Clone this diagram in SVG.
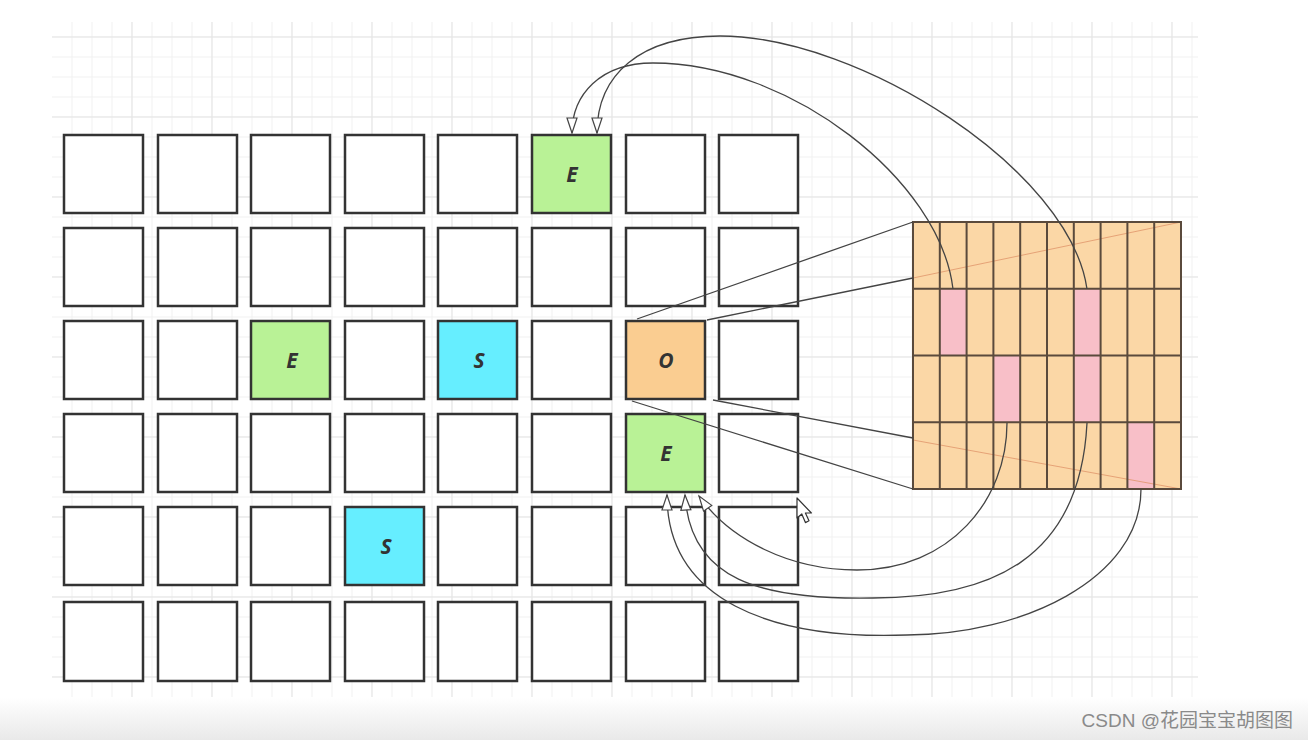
<svg xmlns="http://www.w3.org/2000/svg" width="1308" height="740" viewBox="0 0 1308 740">
<defs>
<linearGradient id="bottomFade" x1="0" y1="0" x2="0" y2="1">
<stop offset="0" stop-color="#ffffff"/>
<stop offset="1" stop-color="#e9e9e9"/>
</linearGradient>
<marker id="openArrow" markerUnits="userSpaceOnUse" markerWidth="20" markerHeight="20" viewBox="0 0 20 20" refX="17" refY="10" orient="auto">
<path d="M2,5 L17,10 L2,15 Z" fill="#ffffff" stroke="#444444" stroke-width="1.2" stroke-linejoin="miter"/>
</marker>
<style>
.cell{fill:#ffffff;stroke:#333333;stroke-width:2.5}
.green{fill:#b9f296}
.cyan{fill:#66eeff}
.orange{fill:#facd91}
.lbl{font-family:"Open Sans","DejaVu Sans",sans-serif;font-weight:bold;font-style:italic;font-size:21px;fill:#333333;text-anchor:middle}
.minor{fill:none;stroke:#f1f1f1;stroke-width:1}
.major{fill:none;stroke:#e5e5e5;stroke-width:1}
.conn{fill:none;stroke:#444444;stroke-width:1.3}
.arc{fill:none;stroke:#444444;stroke-width:1.3;marker-end:url(#openArrow)}
.bigfill{fill:#fbd7a6}
.pink{fill:#f8bfc8}
.bigline{fill:none;stroke:#5a4a3c;stroke-width:2}
.diag{fill:none;stroke:#e0956a;stroke-width:1;stroke-opacity:0.8}
</style>
</defs>
<rect x="0" y="0" width="1308" height="740" fill="#ffffff"/>
<g id="background-grid">
<path class="minor" d="M72 22v675M92 22v675M112 22v675M132 22v675M152 22v675M172 22v675M192 22v675M212 22v675M232 22v675M252 22v675M272 22v675M292 22v675M312 22v675M332 22v675M352 22v675M372 22v675M392 22v675M412 22v675M432 22v675M452 22v675M472 22v675M492 22v675M512 22v675M532 22v675M552 22v675M572 22v675M592 22v675M612 22v675M632 22v675M652 22v675M672 22v675M692 22v675M712 22v675M732 22v675M752 22v675M772 22v675M792 22v675M812 22v675M832 22v675M852 22v675M872 22v675M892 22v675M912 22v675M932 22v675M952 22v675M972 22v675M992 22v675M1012 22v675M1032 22v675M1052 22v675M1072 22v675M1092 22v675M1112 22v675M1132 22v675M1152 22v675M1172 22v675M1192 22v675"/>
<path class="minor" d="M52 37h1146M52 57h1146M52 77h1146M52 97h1146M52 117h1146M52 137h1146M52 157h1146M52 177h1146M52 197h1146M52 217h1146M52 237h1146M52 257h1146M52 277h1146M52 297h1146M52 317h1146M52 337h1146M52 357h1146M52 377h1146M52 397h1146M52 417h1146M52 437h1146M52 457h1146M52 477h1146M52 497h1146M52 517h1146M52 537h1146M52 557h1146M52 577h1146M52 597h1146M52 617h1146M52 637h1146M52 657h1146M52 677h1146"/>
<path class="major" d="M132 22v675M212 22v675M292 22v675M372 22v675M452 22v675M532 22v675M612 22v675M692 22v675M772 22v675M852 22v675M932 22v675M1012 22v675M1092 22v675M1172 22v675M52 37h1146M52 117h1146M52 197h1146M52 277h1146M52 357h1146M52 437h1146M52 517h1146M52 597h1146M52 677h1146"/>
</g>
<rect x="0" y="697" width="1308" height="43" fill="url(#bottomFade)"/>

<g id="row1">
<rect class="cell" x="64" y="135" width="79" height="78"/>
<rect class="cell" x="158" y="135" width="79" height="78"/>
<rect class="cell" x="251" y="135" width="79" height="78"/>
<rect class="cell" x="345" y="135" width="79" height="78"/>
<rect class="cell" x="438" y="135" width="79" height="78"/>
<g id="node-E-top"><rect class="cell green" x="532" y="135" width="79" height="78"/><text class="lbl" x="572" y="182">E</text></g>
<rect class="cell" x="626" y="135" width="79" height="78"/>
<rect class="cell" x="719" y="135" width="79" height="78"/>
</g>
<g id="row2">
<rect class="cell" x="64" y="228" width="79" height="78"/>
<rect class="cell" x="158" y="228" width="79" height="78"/>
<rect class="cell" x="251" y="228" width="79" height="78"/>
<rect class="cell" x="345" y="228" width="79" height="78"/>
<rect class="cell" x="438" y="228" width="79" height="78"/>
<rect class="cell" x="532" y="228" width="79" height="78"/>
<rect class="cell" x="626" y="228" width="79" height="78"/>
<rect class="cell" x="719" y="228" width="79" height="78"/>
</g>
<g id="row3">
<rect class="cell" x="64" y="321" width="79" height="78"/>
<rect class="cell" x="158" y="321" width="79" height="78"/>
<g id="node-E-left"><rect class="cell green" x="251" y="321" width="79" height="78"/><text class="lbl" x="292" y="368">E</text></g>
<rect class="cell" x="345" y="321" width="79" height="78"/>
<g id="node-S-mid"><rect class="cell cyan" x="438" y="321" width="79" height="78"/><text class="lbl" x="479" y="368">S</text></g>
<rect class="cell" x="532" y="321" width="79" height="78"/>
<g id="node-O"><rect class="cell orange" x="626" y="321" width="79" height="78"/><text class="lbl" x="666" y="368">O</text></g>
<rect class="cell" x="719" y="321" width="79" height="78"/>
</g>
<g id="row4">
<rect class="cell" x="64" y="414" width="79" height="78"/>
<rect class="cell" x="158" y="414" width="79" height="78"/>
<rect class="cell" x="251" y="414" width="79" height="78"/>
<rect class="cell" x="345" y="414" width="79" height="78"/>
<rect class="cell" x="438" y="414" width="79" height="78"/>
<rect class="cell" x="532" y="414" width="79" height="78"/>
<g id="node-E-bottom"><rect class="cell green" x="626" y="414" width="79" height="78"/><text class="lbl" x="666" y="461">E</text></g>
<rect class="cell" x="719" y="414" width="79" height="78"/>
</g>
<g id="row5">
<rect class="cell" x="64" y="507" width="79" height="78"/>
<rect class="cell" x="158" y="507" width="79" height="78"/>
<rect class="cell" x="251" y="507" width="79" height="78"/>
<g id="node-S-low"><rect class="cell cyan" x="345" y="507" width="79" height="78"/><text class="lbl" x="386" y="554">S</text></g>
<rect class="cell" x="438" y="507" width="79" height="78"/>
<rect class="cell" x="532" y="507" width="79" height="78"/>
<rect class="cell" x="626" y="507" width="79" height="78"/>
<rect class="cell" x="719" y="507" width="79" height="78"/>
</g>
<g id="row6">
<rect class="cell" x="64" y="602" width="79" height="79"/>
<rect class="cell" x="158" y="602" width="79" height="79"/>
<rect class="cell" x="251" y="602" width="79" height="79"/>
<rect class="cell" x="345" y="602" width="79" height="79"/>
<rect class="cell" x="438" y="602" width="79" height="79"/>
<rect class="cell" x="532" y="602" width="79" height="79"/>
<rect class="cell" x="626" y="602" width="79" height="79"/>
<rect class="cell" x="719" y="602" width="79" height="79"/>
</g>

<g id="node-magnified">
<rect class="bigfill" x="913" y="222" width="268" height="267"/>
<rect class="pink" x="939.8" y="288.75" width="26.8" height="66.75"/>
<rect class="pink" x="1073.8" y="288.75" width="26.8" height="133.5"/>
<rect class="pink" x="993.4" y="355.5" width="26.8" height="66.75"/>
<rect class="pink" x="1127.4" y="422.25" width="26.8" height="66.75"/>
<path class="diag" d="M913 278L1181 222M913 440L1181 489"/>
<path class="bigline" d="M939.8 222V489M966.6 222V489M993.4 222V489M1020.2 222V489M1047 222V489M1073.8 222V489M1100.6 222V489M1127.4 222V489M1154.2 222V489M913 288.75H1181M913 355.5H1181M913 422.25H1181"/>
<rect class="bigline" x="913" y="222" width="268" height="267"/>
</g>

<g id="connectors">
<path class="conn" d="M637 319L913 222M707 320L913 278M632 401L913 489M713 400L913 438"/>
<path class="arc" d="M953 289C940 180 790 63 653 63C600 63 572 95 572 133"/>
<path class="arc" d="M1087 289C1070 170 860 36 720 36C640 36 597 75 597 133"/>
<path class="arc" d="M1007 423C1007 500 950 570 857 570C790 570 730 540 699 496"/>
<path class="arc" d="M1087 423C1080 560 990 598 873 598C760 600 690 580 685 495"/>
<path class="arc" d="M1141 489C1141 580 1020 635 907 635C770 640 667 600 667 495"/>
</g>

<polygon points="797,498 797,518 801.8,514 805.4,522.6 809,520.8 805.4,513 811.4,513" fill="#ffffff" stroke="#333333" stroke-width="1.2" stroke-linejoin="round"/>

<text x="1293" y="727" font-family="'Liberation Sans','Noto Sans CJK SC',sans-serif" font-size="19" fill="#8a8a8a" text-anchor="end">CSDN @花园宝宝胡图图</text>
</svg>
